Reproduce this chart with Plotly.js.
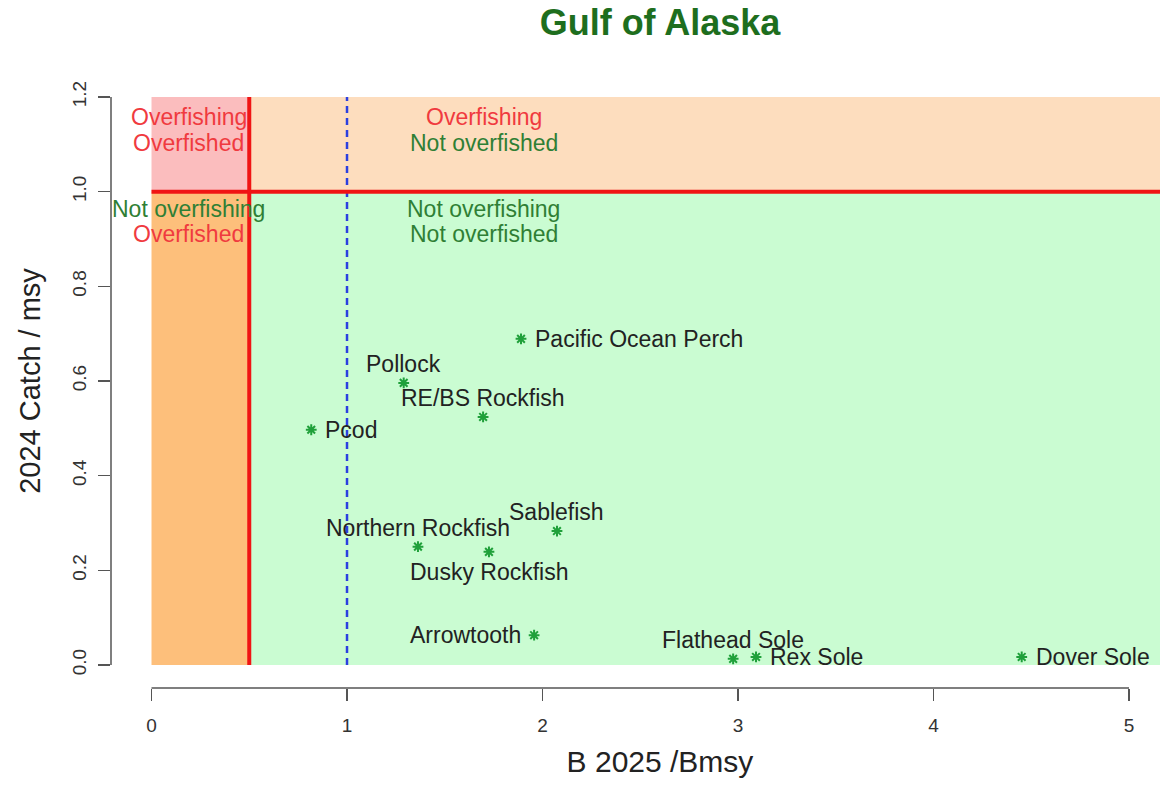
<!DOCTYPE html>
<html>
<head>
<meta charset="utf-8">
<script src="https://cdn.plot.ly/plotly-3.0.1.min.js"></script>
<style>
  html, body { margin: 0; padding: 0; overflow: hidden; background: #fff; }
  #chart { width: 1209px; height: 786px; }
</style>
</head>
<body>
<div id="chart"></div>
<script>
// ---- data ----
const stocks = ["Pacific Ocean Perch", "Pollock", "RE/BS Rockfish", "Pcod", "Sablefish",
                "Northern Rockfish", "Dusky Rockfish", "Arrowtooth", "Flathead Sole", "Rex Sole", "Dover Sole"];
const bRatio = [1.89, 1.29, 1.696, 0.817, 2.074, 1.363, 1.726, 1.957, 2.975, 3.092, 4.451];
const catchRatio = [0.689, 0.596, 0.524, 0.497, 0.283, 0.250, 0.239, 0.063, 0.013, 0.017, 0.017];
const labelSide = ["right", "top", "top", "right", "top", "top", "bottom", "left", "top", "right", "right"];
const xTicks = [0, 1, 2, 3, 4, 5];
const yTicks = [0, 0.2, 0.4, 0.6, 0.8, 1.0, 1.2];
const yTickText = ["0.0", "0.2", "0.4", "0.6", "0.8", "1.0", "1.2"];
const fLimit = 1.0;      // catch / msy threshold
const bLimit = 0.5;      // overfished threshold
const bTarget = 1.0;     // Bmsy

const FONT = '"Liberation Sans", Arial, Helvetica, sans-serif';
const XR = [-0.2072, 5.409];
const YR = [-0.0486, 1.2486];
const RED = '#f03a3f', GREEN = '#2f7f35';

const trace = {
  x: bRatio, y: catchRatio, text: stocks,
  type: 'scatter', mode: 'markers',
  marker: {symbol: 'asterisk-open', size: 9, color: '#1fa03a', line: {color: '#1fa03a', width: 2}},
  cliponaxis: false, hoverinfo: 'x+y+text', showlegend: false
};

const shapes = [
  {type:'rect', layer:'below', xref:'x', yref:'y', x0:0, x1:bLimit, y0:fLimit, y1:1.2, fillcolor:'#fbbdbe', line:{width:0}},
  {type:'rect', layer:'below', xref:'x', yref:'y', x0:bLimit, x1:XR[1], y0:fLimit, y1:1.2, fillcolor:'#fdddbe', line:{width:0}},
  {type:'rect', layer:'below', xref:'x', yref:'y', x0:0, x1:bLimit, y0:0, y1:fLimit, fillcolor:'#fdbf7b', line:{width:0}},
  {type:'rect', layer:'below', xref:'x', yref:'y', x0:bLimit, x1:XR[1], y0:0, y1:fLimit, fillcolor:'#cafcd2', line:{width:0}},
  {type:'line', layer:'below', xref:'x', yref:'y', x0:bTarget, x1:bTarget, y0:0, y1:1.2, line:{color:'#2b3fe0', width:2.5, dash:'7px,5px'}},
  {type:'line', layer:'below', xref:'x', yref:'y', x0:0, x1:XR[1], y0:fLimit, y1:fLimit, line:{color:'#f01414', width:4}},
  {type:'line', layer:'below', xref:'x', yref:'y', x0:bLimit, x1:bLimit, y0:0, y1:1.2, line:{color:'#f01414', width:4}},
  // detached R-style axis lines
  {type:'line', xref:'x', yref:'paper', x0:0, x1:5, y0:0, y1:0, line:{color:'#555', width:1.5}},
  {type:'line', xref:'paper', yref:'y', x0:0, x1:0, y0:0, y1:1.2, line:{color:'#555', width:1.5}}
];

function zoneText(x, y, txt, col) {
  return {xref:'x', yref:'y', x:x, y:y, text:txt, showarrow:false,
          font:{family:FONT, size:23, color:col}, xanchor:'center', yanchor:'middle'};
}
const annotations = [
  zoneText(0.19, 1.158, 'Overfishing', RED),
  zoneText(0.19, 1.103, 'Overfished', RED),
  zoneText(1.70, 1.158, 'Overfishing', RED),
  zoneText(1.70, 1.103, 'Not overfished', GREEN),
  zoneText(0.19, 0.963, 'Not overfishing', GREEN),
  zoneText(0.19, 0.911, 'Overfished', RED),
  zoneText(1.70, 0.963, 'Not overfishing', GREEN),
  zoneText(1.70, 0.911, 'Not overfished', GREEN)
];

// point labels, placed relative to each point (like R's text(pos=...))
const sideStyle = {
  right:  {xanchor:'left',   yanchor:'middle', xshift: 12, yshift: 0},
  left:   {xanchor:'right',  yanchor:'middle', xshift: -11, yshift: 0},
  top:    {xanchor:'center', yanchor:'middle', xshift: 0, yshift: 19},
  bottom: {xanchor:'center', yanchor:'middle', xshift: 0, yshift: -20}
};
stocks.forEach(function (name, i) {
  const s = sideStyle[labelSide[i]];
  annotations.push({xref:'x', yref:'y', x: bRatio[i], y: catchRatio[i], text: name, showarrow: false,
    font: {family: FONT, size: 23, color: '#222'},
    xanchor: s.xanchor, yanchor: s.yanchor, xshift: s.xshift, yshift: s.yshift});
});

const layout = {
  width: 1209, height: 786,
  margin: {l: 111, r: 0, t: 74, b: 98},
  paper_bgcolor: '#fff', plot_bgcolor: '#fff',
  font: {family: FONT, color: '#333'},
  title: {text: '<b>Gulf of Alaska</b>', font: {family: FONT, size: 36, color: '#1e6e1e'},
          x: 0.5, xref: 'paper', xanchor: 'center', y: 0.971, yref: 'container', yanchor: 'middle'},
  xaxis: {range: XR, showgrid: false, zeroline: false, showline: false,
          tickvals: xTicks, ticks: 'outside', ticklen: 12, tickwidth: 1.5, tickcolor: '#555',
          tickfont: {family: FONT, size: 19, color: '#333'}, ticklabelstandoff: 8,
          title: {text: 'B 2025 /Bmsy', font: {family: FONT, size: 30, color: '#222'}, standoff: 16}},
  yaxis: {range: YR, showgrid: false, zeroline: false, showline: false,
          tickvals: yTicks, ticktext: yTickText, tickangle: -90,
          ticks: 'outside', ticklen: 12, tickwidth: 1.5, tickcolor: '#555',
          tickfont: {family: FONT, size: 19, color: '#333'}, ticklabelstandoff: 4,
          title: {text: '2024 Catch / msy', font: {family: FONT, size: 29, color: '#222'}, standoff: 20}},
  shapes: shapes,
  annotations: annotations
};

Plotly.newPlot('chart', [trace], layout, {displayModeBar: false, staticPlot: true});
</script>
</body>
</html>
